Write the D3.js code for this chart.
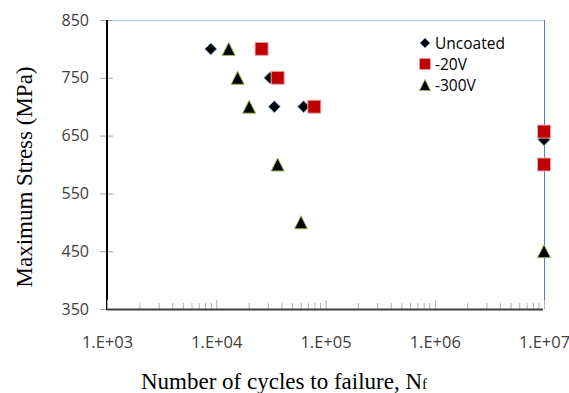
<!DOCTYPE html>
<html lang="en">
<head>
<meta charset="UTF-8">
<title>S-N curve</title>
<script src="https://d3js.org/d3.v7.min.js"></script>
<style>
  body { margin: 0; background: #fff; }
  .tick text { font-family: 'Open Sans', 'Liberation Sans', sans-serif; fill: #404040; }
  .title { font-family: 'Liberation Serif', 'Times New Roman', serif; fill: #000; }
</style>
</head>
<body>
<div id="chart"></div>
<script>
// data (cycles to failure, max stress)
const uncoatedN = [8.9e3, 3.1e4, 3.4e4, 6.3e4, 1e7];
const uncoatedS = [800, 750, 700, 700, 643];
const v20N = [2.6e4, 3.65e4, 7.9e4, 1e7, 1e7];
const v20S = [800, 750, 700, 657, 600];
const v300N = [1.3e4, 1.57e4, 2.0e4, 3.65e4, 5.97e4, 1e7];
const v300S = [800, 750, 700, 600, 500, 450];
const seriesNames = ['Uncoated', '-20V', '-300V'];
const yTicks = [350, 450, 550, 650, 750, 850];
const xTicks = [1e3, 1e4, 1e5, 1e6, 1e7];

const W = 569, H = 393;
const pLeft = 107, pRight = 544, pTop = 20, pBottom = 309;

const svg = d3.select('#chart').append('svg')
  .attr('width', W).attr('height', H);

const x = d3.scaleLog().domain([1e3, 1e7]).range([pLeft, pRight]);
const y = d3.scaleLinear().domain([350, 850]).range([pBottom, pTop]);

// plot area border (top + right)
svg.append('line').attr('x1', pLeft + 6).attr('x2', pRight).attr('y1', pTop + 0.5).attr('y2', pTop + 0.5)
  .attr('stroke', '#b9cde5').attr('stroke-width', 1.5);
svg.append('line').attr('x1', pRight + 0.5).attr('x2', pRight + 0.5).attr('y1', pTop).attr('y2', pBottom)
  .attr('stroke', '#4f81bd').attr('stroke-width', 1);

// y axis
const yAxis = svg.append('g').attr('transform', `translate(${pLeft},0)`)
  .call(d3.axisLeft(y).tickValues(yTicks).tickSize(7).tickPadding(11));
yAxis.select('.domain').remove();
yAxis.selectAll('.tick line').attr('x2', -7).attr('x1', 6).attr('stroke', '#a6a6a6');
yAxis.selectAll('.tick text').attr('font-size', 16);
svg.append('line').attr('x1', pLeft).attr('x2', pLeft).attr('y1', pTop).attr('y2', pBottom + 1)
  .attr('stroke', '#000').attr('stroke-width', 2);

// x axis
const minor = x.ticks().filter(d => xTicks.indexOf(d) < 0);
svg.append('g').selectAll('line').data(minor).join('line')
  .attr('x1', d => x(d)).attr('x2', d => x(d))
  .attr('y1', pBottom).attr('y2', pBottom - 6)
  .attr('stroke', '#b0b0b0');
const xAxis = svg.append('g').attr('transform', `translate(0,${pBottom})`)
  .call(d3.axisBottom(x).tickValues(xTicks).tickSize(9).tickPadding(18)
    .tickFormat(d => '1.E+0' + Math.round(Math.log10(d))));
xAxis.select('.domain').remove();
xAxis.selectAll('.tick line').attr('y2', -9).attr('stroke', '#b0b0b0');
xAxis.selectAll('.tick text').attr('font-size', 16.5);
svg.append('line').attr('x1', pLeft).attr('x2', pRight - 1).attr('y1', pBottom + 0.5).attr('y2', pBottom + 0.5)
  .attr('stroke', '#404040').attr('stroke-width', 2);

// marker shapes
const shapes = {
  'Uncoated': { path: 'M0,-6L6,0L0,6L-6,0Z', fill: '#000', stroke: '#8db3e2' },
  '-20V': { path: 'M-6.5,-6.5H6.5V6.5H-6.5Z', fill: '#c00000', stroke: '#e8a6a6' },
  '-300V': { path: 'M0,-6.5L6.5,6.5L-6.5,6.5Z', fill: '#000', stroke: '#9bbb59' }
};

const series = [
  { name: 'Uncoated', pts: uncoatedN.map((n, i) => ({ n, s: uncoatedS[i] })) },
  { name: '-20V', pts: v20N.map((n, i) => ({ n, s: v20S[i] })) },
  { name: '-300V', pts: v300N.map((n, i) => ({ n, s: v300S[i] })) }
];

series.forEach(sr => {
  const sh = shapes[sr.name];
  svg.append('g').selectAll('path').data(sr.pts).join('path')
    .attr('d', sh.path)
    .attr('transform', d => `translate(${x(d.n)},${y(d.s)})`)
    .attr('fill', sh.fill).attr('stroke', sh.stroke).attr('stroke-width', 1);
});

// legend
const leg = svg.append('g').attr('transform', 'translate(425,43)');
seriesNames.forEach((nm, i) => {
  const sh = shapes[nm];
  const g = leg.append('g').attr('transform', `translate(0,${i * 21})`);
  g.append('path').attr('d', sh.path).attr('transform', 'scale(0.85)')
    .attr('fill', sh.fill).attr('stroke', sh.stroke);
  g.append('text').attr('x', 10).attr('y', 5.5).text(nm)
    .attr('font-family', "'Open Sans', 'Liberation Sans', sans-serif")
    .attr('font-size', 15.5).attr('fill', '#000');
});

// axis titles
const xt = svg.append('text').attr('class', 'title')
  .attr('x', 141).attr('y', 389).attr('font-size', 23);
xt.append('tspan').text('Number of cycles to failure, N');
xt.append('tspan').attr('font-size', 15).text('f');

svg.append('text').attr('class', 'title')
  .attr('transform', 'translate(32,177) rotate(-90)')
  .attr('text-anchor', 'middle').attr('font-size', 23)
  .text('Maximum Stress (MPa)');
</script>
</body>
</html>
